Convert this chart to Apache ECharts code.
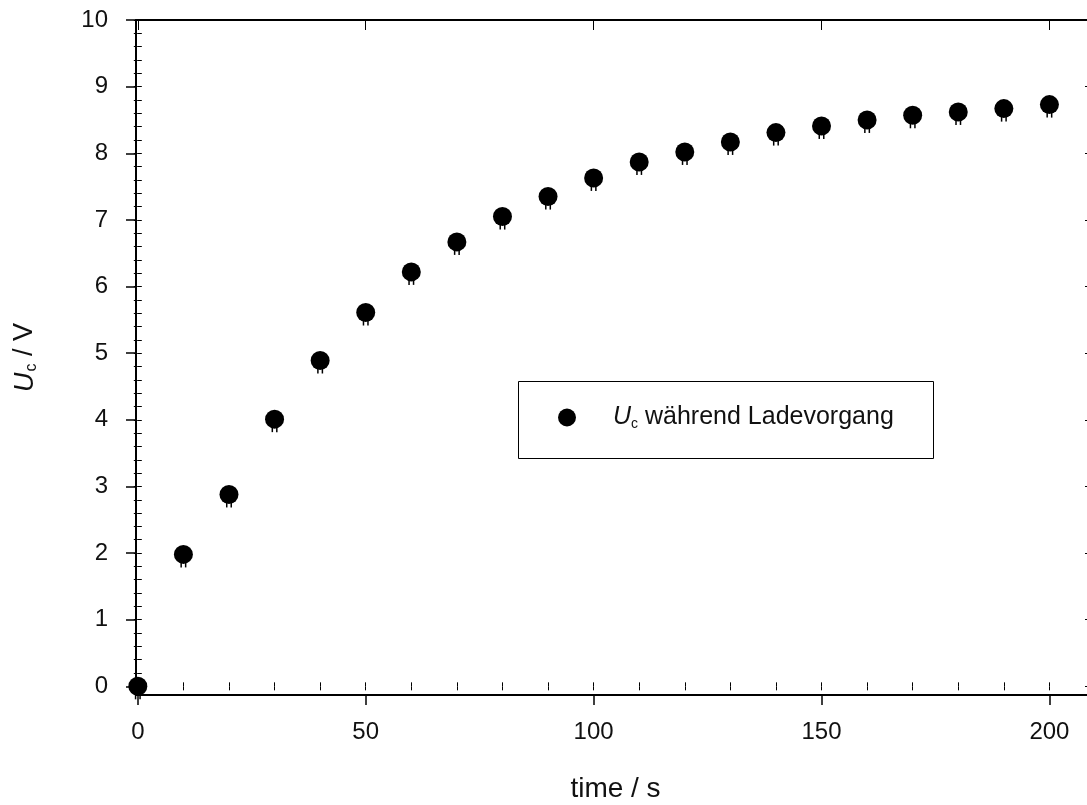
<!DOCTYPE html>
<html>
<head>
<meta charset="utf-8">
<script src="https://cdn.jsdelivr.net/npm/echarts@6/dist/echarts.min.js"></script>
<style>
html,body{margin:0;padding:0;background:#fff;}
#c{width:1087px;height:805px;}
</style>
</head>
<body>
<div id="c"></div>
<script>
// ---- data ----
const timeS = [0,10,20,30,40,50,60,70,80,90,100,110,120,130,140,150,160,170,180,190,200];
const voltageV = [0.00,1.98,2.88,4.01,4.89,5.61,6.22,6.67,7.05,7.35,7.63,7.87,8.02,8.17,8.31,8.41,8.50,8.57,8.62,8.67,8.73];
const xTickLabels = [0,50,100,150,200];
const yTickLabels = [0,1,2,3,4,5,6,7,8,9,10];
const xMinorTicks = [0,10,20,30,40,50,60,70,80,90,100,110,120,130,140,150,160,170,180,190,200,210];
const yMinorTicks = [];
for (let i = 0; i <= 50; i++) yMinorTicks.push(Math.round(i * 2) / 10);

const FONT = "'Liberation Sans', Arial, sans-serif";
const X_MIN = -0.4, X_MAX = 210, Y_MIN = -0.13, Y_MAX = 10;

const chart = echarts.init(document.getElementById('c'), null, {renderer: 'canvas'});

const lineStyle = {color: '#000', width: 2};
function xAx(pos, opts) {
  return Object.assign({
    type: 'value', position: pos, min: X_MIN, max: X_MAX,
    splitLine: {show: false}, axisLine: {show: false},
    axisLabel: {show: false}, axisTick: {show: false}
  }, opts);
}
function yAx(pos, opts) {
  return Object.assign({
    type: 'value', position: pos, min: Y_MIN, max: Y_MAX,
    splitLine: {show: false}, axisLine: {show: false},
    axisLabel: {show: false}, axisTick: {show: false}
  }, opts);
}

const option = {
  animation: false,
  backgroundColor: '#fff',
  grid: {left: 136, top: 20, right: -8, bottom: 110, outerBoundsMode: 'none', containLabel: false},
  xAxis: [
    xAx('bottom', {
      axisLine: {show: true, onZero: false, lineStyle: lineStyle},
      axisTick: {show: true, inside: false, length: 10, customValues: xTickLabels, lineStyle: {color: '#000', width: 1.5}},
      axisLabel: {show: true, customValues: xTickLabels, fontSize: 24, fontFamily: FONT, color: '#111', margin: 25},
      name: 'time / s', nameLocation: 'middle', nameGap: 80,
      nameTextStyle: {fontSize: 28, fontFamily: FONT, color: '#111'}
    }),
    xAx('bottom', {
      axisTick: {show: true, inside: true, length: 4, customValues: xMinorTicks, lineStyle: {color: '#000', width: 1}}
    }),
    xAx('top', {
      axisLine: {show: true, onZero: false, lineStyle: lineStyle},
      axisTick: {show: true, inside: true, length: 10, customValues: xTickLabels, lineStyle: {color: '#000', width: 1}}
    }),
    xAx('top', {
      axisTick: {show: true, inside: true, length: 4, customValues: xMinorTicks, lineStyle: {color: '#000', width: 1}}
    })
  ],
  yAxis: [
    yAx('left', {
      axisLine: {show: true, onZero: false, lineStyle: lineStyle},
      axisTick: {show: true, inside: false, length: 10, customValues: yTickLabels, lineStyle: {color: '#000', width: 1.5}},
      axisLabel: {show: true, customValues: yTickLabels, fontSize: 24, fontFamily: FONT, color: '#111', margin: 28},
      name: '{u|U}{c|c}{t| / V}', nameLocation: 'middle', nameGap: 96, nameRotate: 90,
      nameTextStyle: {
        fontSize: 27, fontFamily: FONT, color: '#111',
        rich: {
          u: {fontSize: 27, fontStyle: 'italic', fontFamily: FONT, color: '#111', lineHeight: 30},
          c: {fontSize: 16, fontFamily: FONT, color: '#111', verticalAlign: 'bottom', lineHeight: 30, padding: [0, 0, 0, 1]},
          t: {fontSize: 27, fontFamily: FONT, color: '#111', lineHeight: 30}
        }
      }
    }),
    yAx('left', {
      axisTick: {show: true, inside: true, length: 4, customValues: yMinorTicks, lineStyle: {color: '#000', width: 1}}
    }),
    yAx('right', {
      axisLine: {show: true, onZero: false, lineStyle: lineStyle},
      axisTick: {show: true, inside: true, length: 10, customValues: yTickLabels, lineStyle: {color: '#000', width: 1}}
    }),
    yAx('right', {
      axisTick: {show: true, inside: true, length: 4, customValues: yMinorTicks, lineStyle: {color: '#000', width: 1}}
    })
  ],
  legend: {
    show: true,
    left: 558, top: 405,
    orient: 'vertical',
    icon: 'circle',
    itemWidth: 18, itemHeight: 18,
    padding: 0,
    data: ['Uc während Ladevorgang'],
    formatter: function () { return '{sp|}{u|U}{c|c}{t| während Ladevorgang}'; },
    textStyle: {
      fontSize: 25, fontFamily: FONT, color: '#111',
      rich: {
        sp: {width: 32},
        u: {fontSize: 25, fontStyle: 'italic', fontFamily: FONT, color: '#111', lineHeight: 28},
        c: {fontSize: 14, fontFamily: FONT, color: '#111', verticalAlign: 'bottom', lineHeight: 28},
        t: {fontSize: 25, fontFamily: FONT, color: '#111', lineHeight: 28}
      }
    }
  },
  graphic: [{
    type: 'rect', left: 518, top: 381, z: 0,
    shape: {width: 415, height: 77},
    style: {fill: '#fff', stroke: '#000', lineWidth: 1}
  }],
  series: [
    {
      name: 'legs', type: 'custom', xAxisIndex: 0, yAxisIndex: 0, z: 2,
      data: timeS.map((t, i) => [t, voltageV[i]]),
      renderItem: function (params, api) {
        const p = api.coord([api.value(0), api.value(1)]);
        return {
          type: 'group',
          children: [
            {type: 'rect', shape: {x: p[0] - 3, y: p[1] + 5, width: 1.5, height: 8}, style: {fill: '#000'}},
            {type: 'rect', shape: {x: p[0] + 1.5, y: p[1] + 5, width: 1.5, height: 8}, style: {fill: '#000'}}
          ]
        };
      },
      silent: true
    },
    {
      name: 'Uc während Ladevorgang', type: 'scatter', xAxisIndex: 0, yAxisIndex: 0, z: 3,
      symbol: 'circle', symbolSize: 19,
      itemStyle: {color: '#000', opacity: 1},
      data: timeS.map((t, i) => [t, voltageV[i]])
    }
  ]
};
chart.setOption(option);
</script>
</body>
</html>
